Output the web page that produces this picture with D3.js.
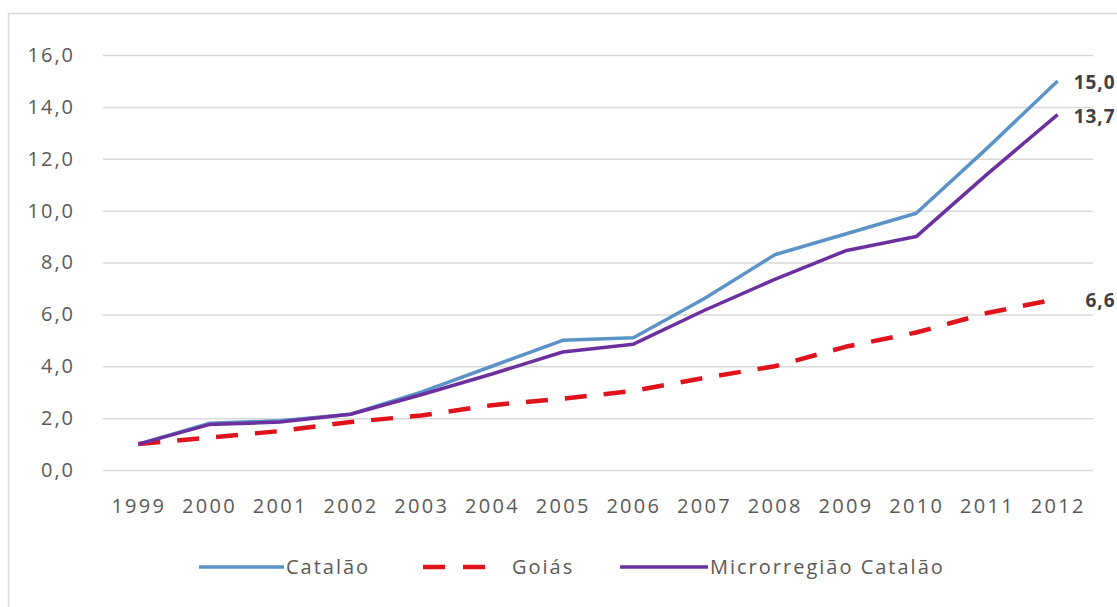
<!DOCTYPE html>
<html>
<head>
<meta charset="utf-8">
<script src="https://cdn.jsdelivr.net/npm/d3@7"></script>
<style>
  body { margin: 0; background: #fff; }
  svg { display: block; }
  .tick text { font-family: "Open Sans", sans-serif; fill: #595959; }
</style>
</head>
<body>
<div id="chart"></div>
<script>
// years on the x axis
var years = ['1999', '2000', '2001', '2002', '2003', '2004', '2005',
             '2006', '2007', '2008', '2009', '2010', '2011', '2012'];

// series
var catalao = [1.0, 1.8, 1.9, 2.15, 3.0, 4.0, 5.0, 5.1, 6.6, 8.3, 9.1, 9.9, 12.4, 15.0];
var goias   = [1.0, 1.25, 1.5, 1.85, 2.1, 2.5, 2.75, 3.05, 3.55, 4.0, 4.75, 5.3, 6.05, 6.6];
var micro   = [1.0, 1.75, 1.85, 2.15, 2.9, 3.7, 4.55, 4.85, 6.15, 7.35, 8.45, 9.0, 11.4, 13.7];

var seriesNames = ['Catalão', 'Goiás', 'Microrregião Catalão'];
var yTicks = [0, 2, 4, 6, 8, 10, 12, 14, 16];

var width = 1117,
    height = 607,
    margin = {top: 55, right: 24, bottom: 138, left: 103};

var series = [
  {name: seriesNames[0], values: catalao, color: '#5b93c8', dash: null, w: 3.5},
  {name: seriesNames[1], values: goias,   color: '#e0121b', dash: '22,17', w: 4.5},
  {name: seriesNames[2], values: micro,   color: '#6b2f9e', dash: null, w: 3.5}
];

var svg = d3.select('#chart').append('svg')
    .attr('width', width)
    .attr('height', height);

// outer chart frame
svg.append('rect')
    .attr('x', 8.5).attr('y', 13.5)
    .attr('width', width + 20).attr('height', height + 20)
    .attr('fill', 'none')
    .attr('stroke', '#d9d9d9')
    .attr('stroke-width', 1.5);

var g = svg.append('g')
    .attr('transform', 'translate(' + margin.left + ',' + margin.top + ')');

var innerW = width - margin.left - margin.right,
    innerH = height - margin.top - margin.bottom;

var x = d3.scalePoint()
    .domain(years)
    .range([0, innerW])
    .padding(0.5);

var y = d3.scaleLinear()
    .domain([0, 16])
    .range([innerH + 1, 0]);

var fmt = function(d) { return d3.format('.1f')(d).replace('.', ','); };

// gridlines + y labels
var yAxis = d3.axisLeft(y)
    .tickValues(yTicks)
    .tickSize(-innerW)
    .tickPadding(28)
    .tickFormat(fmt);

g.append('g')
    .attr('class', 'y axis')
    .call(yAxis)
    .call(function(s) {
      s.select('.domain').remove();
      s.selectAll('.tick line').attr('stroke', '#d9d9d9').attr('stroke-width', 1.5);
      s.selectAll('.tick text')
        .style('font-size', '20px')
        .style('letter-spacing', '2px');
    });

// x labels
var xAxis = d3.axisBottom(x)
    .tickSize(0)
    .tickPadding(29);

g.append('g')
    .attr('class', 'x axis')
    .attr('transform', 'translate(0,' + (innerH + 1) + ')')
    .call(xAxis)
    .call(function(s) {
      s.select('.domain').remove();
      s.selectAll('.tick text')
        .style('font-size', '20px')
        .style('letter-spacing', '2.3px');
    });

var line = d3.line()
    .x(function(d, i) { return x(years[i]); })
    .y(function(d) { return y(d); });

g.selectAll('path.serie')
    .data(series)
    .enter().append('path')
    .attr('class', 'serie')
    .attr('d', function(d) { return line(d.values); })
    .attr('fill', 'none')
    .attr('stroke', function(d) { return d.color; })
    .attr('stroke-width', function(d) { return d.w; })
    .attr('stroke-dasharray', function(d) { return d.dash; })
    .attr('stroke-linejoin', 'round');

// end value labels
var last = years.length - 1;
g.selectAll('text.endlabel')
    .data(series)
    .enter().append('text')
    .attr('class', 'endlabel')
    .attr('x', x(years[last]) + 58)
    .attr('y', function(d) { return y(d.values[last]); })
    .attr('dy', '0.45em')
    .attr('text-anchor', 'end')
    .style('font-family', '"Open Sans", sans-serif')
    .style('font-size', '19px')
    .style('font-weight', 'bold')
    .style('letter-spacing', '1px')
    .style('fill', '#404040')
    .text(function(d) { return fmt(d.values[last]); });

// legend
var legendY = 567;
var legendItems = [
  {lx: 199, len: 85, tx: 286},
  {lx: 423, len: 62, tx: 512},
  {lx: 620, len: 88, tx: 710}
];

var legend = svg.append('g').attr('class', 'legend');
series.forEach(function(s, i) {
  var it = legendItems[i];
  legend.append('line')
      .attr('x1', it.lx).attr('x2', it.lx + it.len)
      .attr('y1', legendY).attr('y2', legendY)
      .attr('stroke', s.color)
      .attr('stroke-width', s.w)
      .attr('stroke-dasharray', s.dash ? '22,18' : null);
  legend.append('text')
      .attr('x', it.tx)
      .attr('y', legendY)
      .attr('dy', '0.35em')
      .style('font-family', '"Open Sans", sans-serif')
      .style('font-size', '20px')
      .style('letter-spacing', '2px')
      .style('fill', '#595959')
      .text(s.name);
});
</script>
</body>
</html>
